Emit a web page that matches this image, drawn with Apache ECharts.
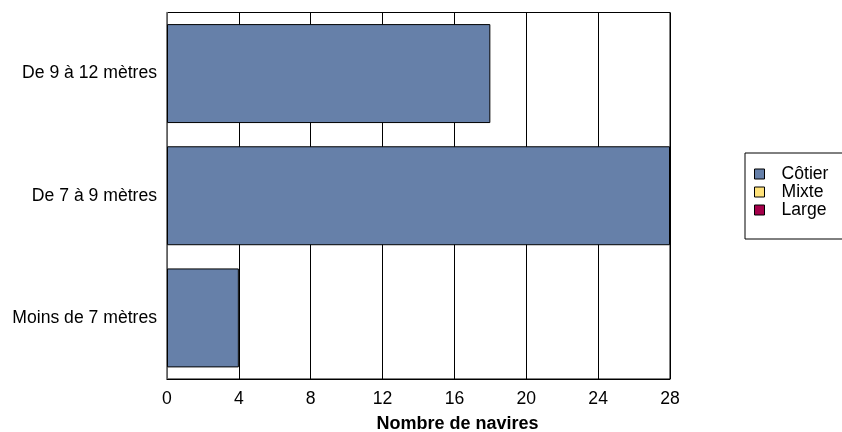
<!DOCTYPE html>
<html>
<head>
<meta charset="utf-8">
<script src="https://cdn.jsdelivr.net/npm/echarts@6/dist/echarts.min.js"></script>
<style>
html,body{margin:0;padding:0;background:#fff;}
#chart{width:842px;height:432px;}
</style>
</head>
<body>
<div id="chart"></div>
<script>
const categories = ['Moins de 7 mètres', 'De 7 à 9 mètres', 'De 9 à 12 mètres'];
const seriesNames = ['Côtier', 'Mixte', 'Large'];
const cotier = [4, 28, 18];
const mixte = [0, 0, 0];
const large = [0, 0, 0];
const xTicks = { min: 0, max: 28, interval: 4 };
const xAxisTitle = 'Nombre de navires';
const colors = ['#6680a9', '#ffe27a', '#a5004a'];

const font = 'Liberation Sans, Arial, sans-serif';
const fs = 17.6;
const chart = echarts.init(document.getElementById('chart'), null, { renderer: 'canvas' });
const values = [cotier, mixte, large];
chart.setOption({
  animation: false,
  textStyle: { fontFamily: font },
  grid: { left: 167, right: 172, top: 12.5, bottom: 53, show: true, borderColor: '#000', borderWidth: 1, containLabel: false, outerBoundsMode: 'none' },
  legend: {
    orient: 'vertical', left: 745, top: 153,
    data: seriesNames,
    icon: 'rect', itemWidth: 10, itemHeight: 10, itemGap: 0,
    borderColor: '#000', borderWidth: 1,
    padding: [12, 40, 20, 9],
    itemStyle: { borderColor: '#000', borderWidth: 1 },
    textStyle: { fontSize: fs, color: '#000', fontFamily: font, padding: [0, 0, 0, 12], lineHeight: 18 }
  },
  xAxis: {
    type: 'value', min: xTicks.min, max: xTicks.max, interval: xTicks.interval,
    name: xAxisTitle, nameLocation: 'middle', nameGap: 36,
    nameTextStyle: { fontSize: 18, fontWeight: 'bold', color: '#000', fontFamily: font, padding: [0, 0, 0, 78] },
    axisLine: { show: true, lineStyle: { color: '#000', width: 1 } },
    axisTick: { show: false },
    axisLabel: { fontSize: fs, color: '#000', margin: 11, fontFamily: font },
    splitLine: { show: true, lineStyle: { color: '#000', width: 1 } }
  },
  yAxis: {
    type: 'category', data: categories,
    axisLine: { show: true, lineStyle: { color: '#7f7f7f', width: 1.5 } },
    axisTick: { show: false },
    axisLabel: { fontSize: fs, color: '#000', margin: 10, fontFamily: font },
    splitLine: { show: false }
  },
  series: seriesNames.map((n, i) => ({
    name: n, type: 'bar', stack: 'total', data: values[i],
    barCategoryGap: '19%',
    itemStyle: { color: colors[i], borderColor: '#000', borderWidth: i === 0 ? 1 : 0 }
  }))
});
</script>
</body>
</html>
